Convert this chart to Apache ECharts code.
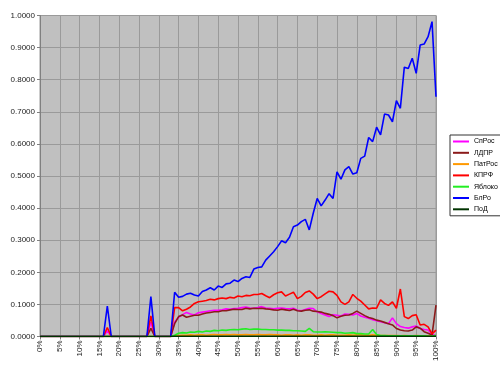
<!DOCTYPE html>
<html>
<head>
<meta charset="utf-8">
<script src="https://cdn.jsdelivr.net/npm/echarts@6/dist/echarts.min.js"></script>
<style>
html,body{margin:0;padding:0;background:#fff;}
#chart{width:500px;height:373px;}
</style>
</head>
<body>
<div id="chart"></div>
<script>
// Categories 0% .. 100%
var categories = ['0%','1%','2%','3%','4%','5%','6%','7%','8%','9%','10%','11%','12%','13%','14%','15%','16%','17%','18%','19%','20%','21%','22%','23%','24%','25%','26%','27%','28%','29%','30%','31%','32%','33%','34%','35%','36%','37%','38%','39%','40%','41%','42%','43%','44%','45%','46%','47%','48%','49%','50%','51%','52%','53%','54%','55%','56%','57%','58%','59%','60%','61%','62%','63%','64%','65%','66%','67%','68%','69%','70%','71%','72%','73%','74%','75%','76%','77%','78%','79%','80%','81%','82%','83%','84%','85%','86%','87%','88%','89%','90%','91%','92%','93%','94%','95%','96%','97%','98%','99%','100%'];

var yTicks = [0, 0.1, 0.2, 0.3, 0.4, 0.5, 0.6, 0.7, 0.8, 0.9, 1.0];

var seriesNames = ['СпРос','ЛДПР','ПатРос','КПРФ','Яблоко','БлРо','ПоД'];

var spRos = [
0,0,0,0,0,0,0,0,0,0,0,0,0,0,0,0,0,0.018,0,0,0,0,0,0,0,0,0,0,0.045,0,0,0,0,0,
0.045,0.060,0.068,0.075,0.070,0.067,0.074,0.076,0.078,0.080,0.082,0.082,0.083,0.086,0.085,0.087,0.088,0.090,0.092,0.089,0.088,
0.090,0.093,0.089,0.088,0.086,0.088,0.089,0.087,0.086,0.088,0.082,0.080,0.084,0.088,0.087,0.077,0.072,0.067,0.062,0.068,0.066,0.064,
0.070,0.069,0.067,0.072,0.064,0.060,0.057,0.052,0.049,0.046,0.043,0.040,0.058,0.040,0.031,0.028,0.026,0.030,0.033,0.025,0.022,0.020,0.008,0.002];

var ldpr = [
0,0,0,0,0,0,0,0,0,0,0,0,0,0,0,0,0,0,0,0,0,0,0,0,0,0,0,0,0.025,0,0,0,0,0,
0.040,0.062,0.067,0.060,0.063,0.066,0.066,0.070,0.073,0.075,0.077,0.077,0.080,0.080,0.083,0.085,0.084,0.084,0.088,0.086,0.088,
0.087,0.088,0.086,0.085,0.083,0.082,0.085,0.083,0.081,0.085,0.080,0.079,0.082,0.083,0.079,0.078,0.076,0.072,0.069,0.065,0.058,0.063,
0.066,0.067,0.072,0.079,0.072,0.065,0.059,0.056,0.051,0.048,0.044,0.040,0.036,0.025,0.020,0.018,0.017,0.020,0.030,0.026,0.015,0.010,0.005,0.098];

var patRos = [
0,0,0,0,0,0,0,0,0,0,0,0,0,0,0,0,0,0,0,0,0,0,0,0,0,0,0,0,0,0,0,0,0,0,
0.002,0.003,0.004,0.004,0.005,0.004,0.005,0.005,0.004,0.005,0.006,0.005,0.005,0.006,0.005,0.006,0.005,0.005,0.006,0.005,0.005,
0.006,0.005,0.005,0.006,0.005,0.005,0.004,0.005,0.005,0.004,0.005,0.004,0.005,0.005,0.004,0.004,0.005,0.004,0.005,0.005,0.004,0.004,
0.004,0.005,0.004,0.005,0.005,0.004,0.004,0.005,0.004,0.003,0.003,0.003,0.003,0.003,0.002,0.003,0.002,0.002,0.003,0.002,0.002,0.002,0.001,0.002];

var kprf = [
0,0,0,0,0,0,0,0,0,0,0,0,0,0,0,0,0,0.028,0,0,0,0,0,0,0,0,0,0,0.064,0,0,0,0,0,
0.090,0.090,0.080,0.085,0.092,0.103,0.108,0.110,0.112,0.116,0.114,0.118,0.120,0.118,0.122,0.120,0.126,0.124,0.128,0.127,0.131,
0.131,0.134,0.127,0.121,0.130,0.136,0.139,0.126,0.132,0.138,0.118,0.125,0.137,0.142,0.132,0.118,0.124,0.133,0.141,0.139,0.128,0.108,
0.100,0.108,0.131,0.119,0.110,0.098,0.086,0.089,0.088,0.114,0.103,0.097,0.108,0.088,0.148,0.062,0.056,0.065,0.068,0.036,0.038,0.030,0.008,0.020];

var yabloko = [
0,0,0,0,0,0,0,0,0,0,0,0,0,0,0,0,0,0,0,0,0,0,0,0,0,0,0,0,0,0,0,0,0,0,
0.004,0.010,0.012,0.011,0.014,0.013,0.016,0.014,0.017,0.016,0.019,0.018,0.020,0.019,0.021,0.022,0.021,0.023,0.024,0.022,0.023,
0.023,0.022,0.022,0.021,0.021,0.020,0.020,0.019,0.019,0.018,0.018,0.017,0.016,0.025,0.015,0.014,0.014,0.015,0.014,0.013,0.012,0.012,
0.010,0.011,0.012,0.009,0.009,0.008,0.008,0.022,0.006,0.003,0.003,0.002,0.002,0.002,0.002,0.002,0.002,0.002,0.002,0.002,0.002,0.001,0.001,0.004];

var blRo = [
0,0,0,0,0,0,0,0,0,0,0,0,0,0,0,0,0,0.095,0,0,0,0,0,0,0,0,0,0,0.124,0,0,0,0,0,
0.138,0.122,0.125,0.132,0.135,0.129,0.126,0.140,0.145,0.152,0.145,0.157,0.153,0.164,0.166,0.176,0.171,0.181,0.186,0.184,0.210,
0.215,0.217,0.238,0.251,0.264,0.280,0.298,0.292,0.309,0.342,0.347,0.358,0.365,0.332,0.384,0.430,0.407,0.425,0.445,0.430,0.513,0.490,
0.519,0.529,0.506,0.510,0.555,0.562,0.620,0.607,0.652,0.628,0.693,0.690,0.669,0.735,0.711,0.839,0.835,0.867,0.820,0.908,0.911,0.934,0.981,0.747];

var poD = [
0,0,0,0,0,0,0,0,0,0,0,0,0,0,0,0,0,0,0,0,0,0,0,0,0,0,0,0,0,0,0,0,0,0,
0.001,0.001,0.001,0.001,0.001,0.001,0.001,0.001,0.001,0.001,0.001,0.001,0.001,0.001,0.001,0.001,0.001,0.001,0.001,0.001,0.001,
0.001,0.001,0.001,0.001,0.001,0.001,0.001,0.001,0.001,0.001,0.001,0.001,0.001,0.001,0.001,0.001,0.001,0.001,0.001,0.001,0.001,0.001,
0.001,0.001,0.001,0.001,0.001,0.001,0.001,0.001,0.001,0.001,0.001,0.001,0.001,0.001,0.001,0.001,0.001,0.001,0.001,0.001,0.001,0.001,0.001,0.001];

var seriesData = [spRos, ldpr, patRos, kprf, yabloko, blRo, poD];
var seriesColors = ['#FF00FF','#8B1A1A','#FF9900','#FF0000','#22EE22','#0000FF','#003300'];

var chart = echarts.init(document.getElementById('chart'), null, {renderer:'canvas'});
var FONT = '"Liberation Sans", Arial, sans-serif';

var series = seriesNames.map(function(n, i){
  return {
    name: n,
    type: 'line',
    data: seriesData[i],
    symbol: 'none',
    showSymbol: false,
    lineStyle: {width: 1.6, color: seriesColors[i]},
    itemStyle: {color: seriesColors[i]},
    animation: false
  };
});

chart.setOption({
  animation: false,
  backgroundColor: '#ffffff',
  grid: {
    left: 40, top: 15.5, width: 396, height: 321,
    show: true, backgroundColor: '#C0C0C0', borderColor: '#9a9a9a', borderWidth: 1
  },
  legend: {
    orient: 'vertical',
    left: 450, top: 135,
    padding: [2, 3, 2, 3],
    itemWidth: 16, itemHeight: 2, itemGap: 2.3, itemTextGap: 2,
    icon: 'rect',
    borderColor: '#333', borderWidth: 1,
    backgroundColor: '#fff',
    textStyle: {fontFamily: FONT, fontSize: 7, color: '#000', lineHeight: 9},
    data: seriesNames
  },
  xAxis: {
    type: 'category',
    data: categories,
    boundaryGap: false,
    axisLine: {show: true, lineStyle: {color: '#808080', width: 1}},
    axisTick: {show: true, interval: 4, length: 3, lineStyle: {color: '#808080'}},
    axisLabel: {interval: 4, rotate: 90, margin: 4, fontFamily: FONT, fontSize: 8, color: '#222'},
    splitLine: {show: true, interval: 4, lineStyle: {color: '#9a9a9a', width: 1}}
  },
  yAxis: {
    type: 'value',
    min: yTicks[0], max: yTicks[yTicks.length - 1], interval: 0.1,
    axisLine: {show: true, lineStyle: {color: '#808080', width: 1}},
    axisTick: {show: true, length: 3, lineStyle: {color: '#808080'}},
    axisLabel: {margin: 5, fontFamily: FONT, fontSize: 8, color: '#222',
      formatter: function(v){ return v.toFixed(4); }},
    splitLine: {show: true, lineStyle: {color: '#9a9a9a', width: 1}}
  },
  series: series
});
</script>
</body>
</html>
